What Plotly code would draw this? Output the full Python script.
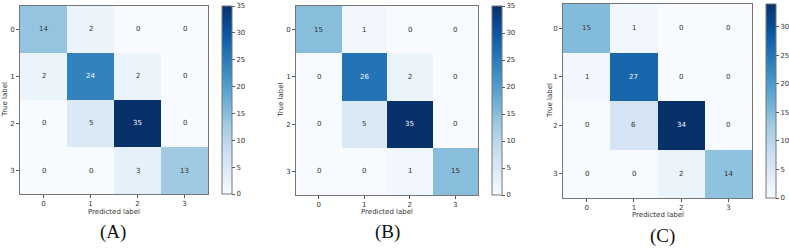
import plotly.graph_objects as go

classes = ["0", "1", "2", "3"]
cm_a = [[14, 2, 0, 0], [2, 24, 2, 0], [0, 5, 35, 0], [0, 0, 3, 13]]
cm_b = [[15, 1, 0, 0], [0, 26, 2, 0], [0, 5, 35, 0], [0, 0, 1, 15]]
cm_c = [[15, 1, 0, 0], [1, 27, 0, 0], [0, 6, 34, 0], [0, 0, 2, 14]]
panel_labels = ["(A)", "(B)", "(C)"]
cbar_ticks = [0, 5, 10, 15, 20, 25, 30, 35]

W, H = 789, 249
blues = ["#f7fbff", "#deebf7", "#c6dbef", "#9ecae1", "#6baed6",
         "#4292c6", "#2171b5", "#08519c", "#08306b"]
cscale = [[i / 8, c] for i, c in enumerate(blues)]

# pixel boxes: heatmap (x0, x1, y0, y1), colorbar (x0, x1), caption (x, y),
# ytitle x, xtitle y
panels = [
    dict(cm=cm_a, hm=(20, 208, 6, 194), cb=(222, 232), cap=(113, 232), yt=5, xt=212),
    dict(cm=cm_b, hm=(296, 478, 6, 195), cb=(492, 502), cap=(387, 232), yt=280, xt=212),
    dict(cm=cm_c, hm=(563, 752, 4, 198), cb=(766, 776), cap=(662, 236), yt=550, xt=215),
]

fig = go.Figure()
annotations = []
font_fam = "DejaVu Sans"
for i, p in enumerate(panels):
    k = "" if i == 0 else str(i + 1)
    x0, x1, y0, y1 = p["hm"]
    cm = p["cm"]
    vals = [v for row in cm for v in row]
    vmax, vmin = max(vals), min(vals)
    thresh = (vmax + vmin) / 2
    fig.add_trace(go.Heatmap(
        z=cm, x=classes, y=classes, colorscale=cscale, zmin=vmin, zmax=vmax,
        xaxis="x" + k, yaxis="y" + k, showscale=True, hoverinfo="skip",
        xgap=0, ygap=0,
        colorbar=dict(
            x=p["cb"][0] / W, xanchor="left", xref="paper",
            y=1 - y1 / H, yanchor="bottom", len=(y1 - y0) / H, lenmode="fraction",
            thickness=p["cb"][1] - p["cb"][0], thicknessmode="pixels",
            outlinewidth=1, outlinecolor="#777",
            tickvals=[t for t in cbar_ticks if t <= vmax], ticks="outside", ticklen=3,
            tickcolor="#555", tickfont=dict(size=7, color="#333", family=font_fam),
            xpad=0, ypad=0,
        ),
    ))
    fig.update_layout(**{
        "xaxis" + k: dict(domain=[x0 / W, x1 / W], anchor="y" + k, showline=True,
                           mirror=True, linecolor="#777", linewidth=1, ticks="outside",
                           ticklen=3, tickcolor="#555", showgrid=False, zeroline=False,
                           tickfont=dict(size=7, color="#333", family=font_fam)),
        "yaxis" + k: dict(domain=[1 - y1 / H, 1 - y0 / H], anchor="x" + k, showline=True,
                           mirror=True, linecolor="#777", linewidth=1, ticks="outside",
                           ticklen=3, tickcolor="#555", showgrid=False, zeroline=False,
                           autorange="reversed",
                           tickfont=dict(size=7, color="#333", family=font_fam)),
    })
    for r, row in enumerate(cm):
        for c, v in enumerate(row):
            annotations.append(dict(
                x=classes[c], y=classes[r], xref="x" + k, yref="y" + k, text=str(v),
                showarrow=False, xanchor="center", yanchor="middle",
                font=dict(size=7, family=font_fam,
                          color="#f7fbff" if v > thresh else "#333"),
            ))
    annotations.append(dict(x=(x0 + x1) / 2 / W, y=1 - p["xt"] / H, xref="paper",
                            yref="paper", text="Predicted label", showarrow=False,
                            xanchor="center", yanchor="middle",
                            font=dict(size=7, color="#333", family=font_fam)))
    annotations.append(dict(x=p["yt"] / W, y=1 - (y0 + y1) / 2 / H, xref="paper", yref="paper",
                            text="True label", showarrow=False, textangle=-90,
                            xanchor="center", yanchor="middle",
                            font=dict(size=7, color="#333", family=font_fam)))
    annotations.append(dict(x=p["cap"][0] / W, y=1 - p["cap"][1] / H, xref="paper",
                            yref="paper", text=panel_labels[i], showarrow=False,
                            xanchor="center", yanchor="middle",
                            font=dict(size=19, color="#111", family="Liberation Serif")))

fig.update_layout(width=W, height=H,
                  margin=dict(l=0, r=0, t=0, b=0, pad=0, autoexpand=False),
                  paper_bgcolor="white", plot_bgcolor="white",
                  annotations=annotations, showlegend=False)
fig.write_html("out.html", config={"displayModeBar": False},
               post_script="document.body.style.margin='0';document.body.style.padding='0';")
